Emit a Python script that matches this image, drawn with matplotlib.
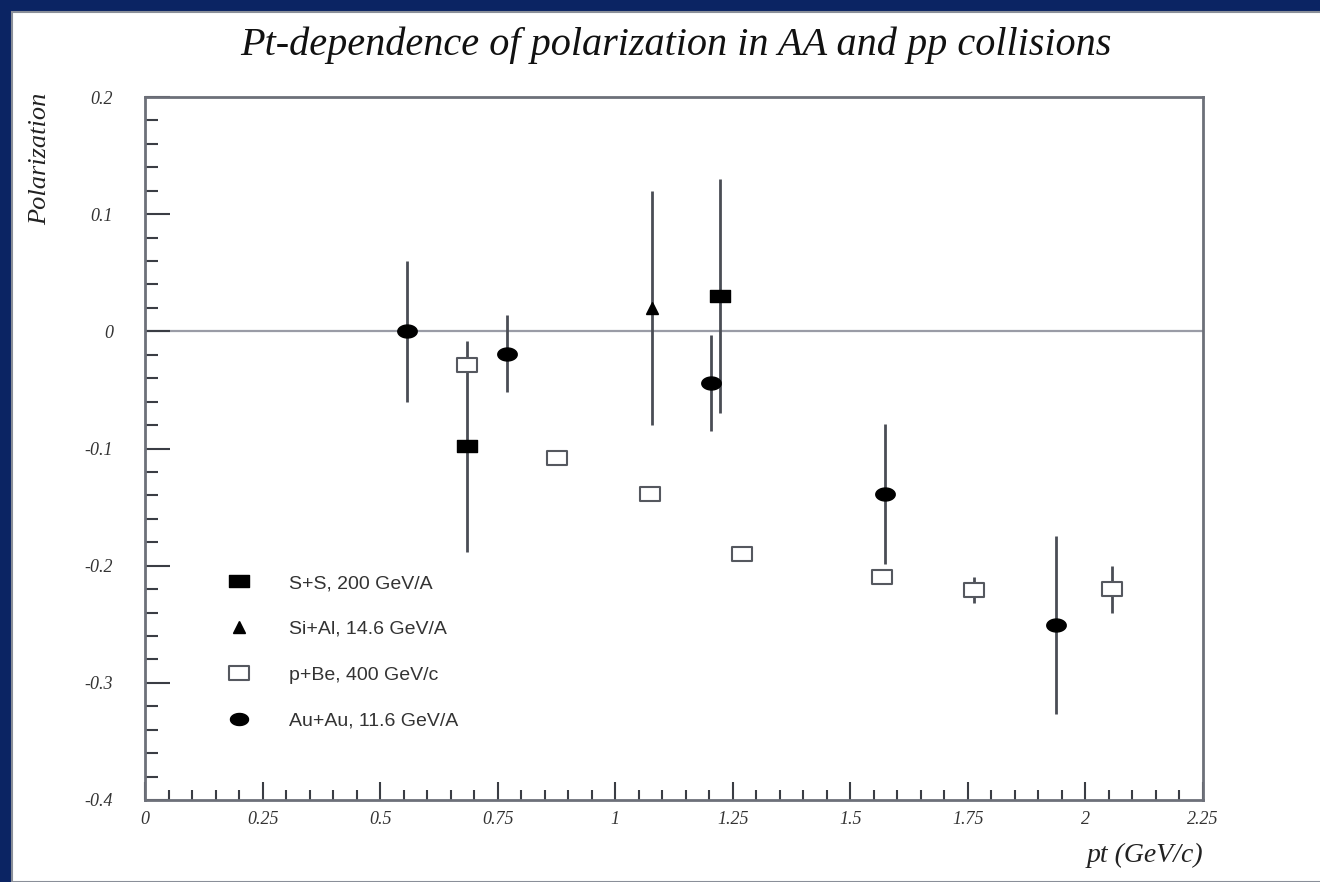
import numpy as np
import matplotlib
matplotlib.use("Agg")
import matplotlib.pyplot as plt
from matplotlib.patches import Rectangle
from matplotlib.path import Path

# data
ss_pt = [0.685, 1.223]
ss_pol = [-0.098, 0.030]
ss_err = [0.090, 0.100]

sial_pt = [1.079]
sial_pol = [0.020]
sial_err = [0.100]

pbe_pt = [0.685, 0.877, 1.074, 1.270, 1.568, 1.762, 2.057]
pbe_pol = [-0.029, -0.108, -0.139, -0.190, -0.210, -0.221, -0.220]
pbe_err = [0.0, 0.0, 0.0, 0.0, 0.0, 0.011, 0.020]

auau_pt = [0.557, 0.770, 1.204, 1.574, 1.938]
auau_pol = [0.000, -0.019, -0.044, -0.139, -0.251]
auau_err = [0.060, 0.033, 0.041, 0.060, 0.076]

labels = ["S+S, 200 GeV/A", "Si+Al, 14.6 GeV/A", "p+Be, 400 GeV/c", "Au+Au, 11.6 GeV/A"]
xticks = [0, 0.25, 0.5, 0.75, 1, 1.25, 1.5, 1.75, 2, 2.25]
xticklabels = ["0", "0.25", "0.5", "0.75", "1", "1.25", "1.5", "1.75", "2", "2.25"]
yticks = [-0.4, -0.3, -0.2, -0.1, 0, 0.1, 0.2]
yticklabels = ["-0.4", "-0.3", "-0.2", "-0.1", "0", "0.1", "0.2"]

# stretched markers (the scanned image is wider than tall)
rect = Path([(-0.75, -0.5), (0.75, -0.5), (0.75, 0.5), (-0.75, 0.5), (-0.75, -0.5)],
            [Path.MOVETO, Path.LINETO, Path.LINETO, Path.LINETO, Path.CLOSEPOLY])
t = np.linspace(0, 2 * np.pi, 40)
ell = Path(np.column_stack([0.75 * np.cos(t), 0.5 * np.sin(t)]))

fig = plt.figure(figsize=(13.2, 8.82), dpi=100)
fig.patch.set_facecolor("#0b2463")
fig.add_artist(Rectangle((12 / 1320, 0), 1, 1 - 12 / 882, transform=fig.transFigure,
                         facecolor="white", edgecolor="#8a8f99", lw=1.5, zorder=-5))

ax = fig.add_axes([145 / 1320, 1 - 800 / 882, (1203 - 145) / 1320, (800 - 97) / 882])
ax.set_facecolor("none")
ax.set_xlim(0, 2.25)
ax.set_ylim(-0.4, 0.2)

ax.axhline(0, color="#9a9ca6", lw=1.6, zorder=1)

ekw = dict(ls="none", ecolor="#4a4d55", elinewidth=2, capsize=0, zorder=3)
ax.errorbar(ss_pt, ss_pol, yerr=ss_err, marker=rect, ms=14, mfc="black", mec="black", **ekw)
ax.errorbar(sial_pt, sial_pol, yerr=sial_err, marker="^", ms=9, mfc="black", mec="black", **ekw)
ax.errorbar(pbe_pt, pbe_pol, yerr=pbe_err, marker=rect, ms=15, mfc="white", mec="#55585f",
            mew=1.5, **ekw)
ax.errorbar(auau_pt, auau_pol, yerr=auau_err, marker=ell, ms=14, mfc="black", mec="black", **ekw)

for side in ["left", "bottom", "top", "right"]:
    ax.spines[side].set_color("#6d7079")
    ax.spines[side].set_linewidth(2)

ax.set_xticks(xticks)
ax.set_xticklabels(xticklabels)
ax.set_yticks(yticks)
ax.set_yticklabels(yticklabels)
ax.set_xticks(np.arange(0, 2.26, 0.05), minor=True)
ax.set_yticks(np.arange(-0.4, 0.201, 0.02), minor=True)
ax.tick_params(which="both", direction="in", top=False, right=False, color="#3a3d44", width=1.5)
ax.tick_params(axis="x", which="major", length=13, pad=8)
ax.tick_params(axis="x", which="minor", length=7)
ax.tick_params(axis="y", which="major", length=18, pad=23)
ax.tick_params(axis="y", which="minor", length=9)
for lab in ax.get_xticklabels() + ax.get_yticklabels():
    lab.set_family("Liberation Serif")
    lab.set_style("italic")
    lab.set_fontsize(13)
    lab.set_color("#333333")

fig.text(0.512, 0.949, "Pt-dependence of polarization in AA and pp collisions",
         ha="center", va="center", family="Liberation Serif", style="italic",
         fontsize=29, color="#111111")
fig.text(40 / 1320, 1 - 93 / 882, "Polarization", rotation=90, ha="center", va="top",
         family="Liberation Serif", style="italic", fontsize=19, color="#222222")
fig.text(1203 / 1320, 1 - 855 / 882, "pt (GeV/c)", ha="right", va="center",
         family="Liberation Serif", style="italic", fontsize=20, color="#222222")

# legend inside the frame, no box
leg_handles = [
    plt.Line2D([], [], ls="none", marker=rect, ms=14, mfc="black", mec="black"),
    plt.Line2D([], [], ls="none", marker="^", ms=8, mfc="black", mec="black"),
    plt.Line2D([], [], ls="none", marker=rect, ms=15, mfc="white", mec="#55585f", mew=1.5),
    plt.Line2D([], [], ls="none", marker=ell, ms=13, mfc="black", mec="black"),
]
leg = ax.legend(leg_handles, labels, loc="upper left", bbox_to_anchor=(207 / 1320, 1 - 557 / 882),
                bbox_transform=fig.transFigure, frameon=False, handlelength=1.5,
                handletextpad=1.8, labelspacing=1.45,
                prop={"family": "Liberation Sans", "size": 14})
for txt in leg.get_texts():
    txt.set_color("#333333")

fig.savefig("out.png", dpi=100, facecolor=fig.get_facecolor())
